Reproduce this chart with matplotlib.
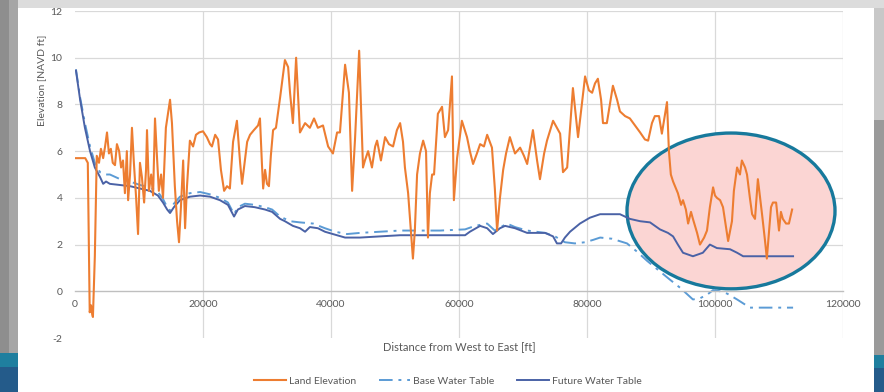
import matplotlib
matplotlib.use("Agg")
import matplotlib.pyplot as plt
from matplotlib.patches import Ellipse, Rectangle

# ---- data -------------------------------------------------------------
land_dist = [0, 1600, 2000, 2300, 2500, 2700, 2800, 3100, 3400, 3750, 4050, 4400, 4700, 5000,
             5300, 5600, 5900, 6250, 6550, 6900, 7200, 7500, 7800, 8100, 8300, 8600, 8900, 9200,
             9550, 9850, 10150, 10450, 10800, 11100, 11250, 11550, 11900, 12200, 12500, 12800,
             13100, 13450, 13750, 14200, 14850, 15150, 15600, 15950, 16250, 16550, 16900, 17200,
             17500, 17950, 18450, 18900, 19400, 20000, 20600, 21100, 21400, 21900, 22350, 22800,
             23300, 23750, 24200, 24700, 25300, 25800, 26100, 26550, 26900, 27350, 27950, 28600,
             28900, 29200, 29400, 29700, 30000, 30300, 30600, 30950, 31400, 32050, 32800, 33300,
             33600, 34050, 34550, 35150, 35950, 36700, 37350, 37950, 38750, 39550, 40300, 40950,
             41400, 42200, 42800, 43300, 43750, 44400, 45000, 45300, 45800, 46400, 46900, 47200,
             47800, 48450, 49050, 49700, 50300, 50800, 51250, 51550, 52050, 52500, 52800, 53100,
             53450, 53900, 54400, 54850, 55150, 55450, 55800, 56100, 56700, 57350, 57800, 58300,
             58900, 59200, 59700, 60450, 61250, 61700, 62200, 62800, 63300, 63900, 64400, 65150,
             65600, 65950, 66400, 66900, 67350, 67950, 68750, 69550, 70150, 70650, 71550, 72200,
             72650, 73300, 73750, 74700, 75300, 75800, 76250, 76900, 77350, 77800, 78600, 79200,
             79700, 80300, 80800, 81250, 81700, 82200, 82500, 83100, 84050, 84700, 85150, 85950,
             86700, 87500, 88300, 89050, 89550, 90150, 90600, 91250, 91700, 92500, 92800, 93100,
             93450, 93900, 94200, 94700, 95000, 95450, 95800, 96250, 96550, 97200, 97650, 98300,
             98750, 99200, 99700, 100000, 100300, 100800, 101250, 101700, 102050, 102650, 102950,
             103450, 103900, 104200, 104700, 105000, 105450, 105800, 106250, 106700, 107050,
             107350, 107800, 108100, 108450, 108750, 109050, 109550, 110000, 110300, 110600,
             111100, 111550, 112050]
land_elev = [5.7, 5.7, 5.5, -0.9, -0.6, -1.0, -1.1, 1.5, 5.8, 5.5, 6.1, 5.7, 6.2, 6.8,
             5.9, 6.1, 5.5, 5.4, 6.3, 6.0, 5.3, 5.6, 4.2, 6.0, 3.9, 5.0, 7.0, 5.5,
             4.0, 2.45, 5.5, 4.9, 3.8, 5.2, 6.9, 4.3, 5.0, 4.1, 7.4, 5.8,
             4.3, 5.0, 4.0, 7.0, 8.2, 7.2, 4.5, 3.0, 2.1, 3.6, 5.6, 2.7,
             4.5, 6.45, 6.2, 6.7, 6.8, 6.85, 6.6, 6.3, 6.2, 6.7, 6.5, 5.2,
             4.3, 4.5, 4.4, 6.4, 7.3, 5.5, 4.6, 5.6, 6.4, 6.7, 6.9, 7.1,
             7.4, 5.5, 4.4, 5.2, 4.6, 4.5, 5.8, 6.9, 7.0, 8.3, 9.9, 9.6,
             8.5, 7.2, 10.0, 6.8, 7.2, 7.0, 7.4, 7.0, 7.1, 6.2, 5.9, 6.8,
             6.8, 9.7, 8.5, 4.3, 6.5, 10.3, 5.3, 5.6, 6.0, 5.3, 6.2, 6.45,
             5.6, 6.6, 6.3, 6.2, 6.9, 7.2, 6.4, 5.3, 4.2, 2.5, 1.4, 2.6,
             5.0, 5.9, 6.45, 6.0, 2.3, 4.2, 5.0, 5.0, 7.6, 7.9, 6.6, 6.9,
             9.2, 3.9, 5.7, 7.3, 6.6, 6.0, 5.45, 5.9, 6.3, 6.2, 6.7, 6.15,
             4.4, 2.6, 4.0, 5.2, 5.9, 6.6, 5.9, 6.15, 5.8, 5.45, 6.9, 5.6,
             4.8, 5.9, 6.45, 7.3, 7.0, 6.75, 5.1, 5.3, 7.0, 8.7, 6.6, 8.0,
             9.2, 8.6, 8.5, 8.9, 9.1, 8.2, 7.2, 7.2, 8.8, 8.2, 7.7, 7.5,
             7.4, 7.1, 6.8, 6.5, 6.45, 7.2, 7.5, 7.5, 6.75, 8.1, 6.0, 5.0,
             4.7, 4.4, 4.2, 3.7, 3.9, 3.5, 2.9, 3.4, 3.1, 2.5, 2.0, 2.3,
             2.6, 3.6, 4.45, 4.1, 4.0, 3.9, 3.6, 2.8, 2.15, 3.0, 4.3,
             5.3, 5.0, 5.6, 5.3, 5.0, 4.0, 3.3, 3.1, 4.8, 4.0,
             3.3, 2.2, 1.4, 2.6, 3.6, 3.8, 3.8, 2.6, 3.4, 3.1,
             2.9, 2.9, 3.5]

base_dist = [150, 800, 1550, 2350, 3100, 3900, 4700, 5450, 7050, 8600, 10150, 11700, 12950,
             13750, 14400, 14850, 15450, 16400, 17950, 19550, 21100, 22650, 23900, 24850, 25450,
             26550, 28100, 29700, 30800, 32050, 33600, 35150, 37200, 39050, 40650, 42500, 44550,
             47650, 50800, 57050, 60950, 62500, 64400, 65600, 67500, 68750, 70650, 73450, 75000,
             76550, 78100, 79700, 80950, 82050, 83900, 86250, 87800, 89400, 91400, 92950, 94550,
             96550, 97650, 98750, 99700, 100800, 101900, 103450, 105450, 112200]
base_wt = [9.5, 8.3, 7.2, 6.2, 5.5, 5.1, 5.0, 5.0, 4.8, 4.7, 4.55, 4.45, 4.25,
           3.95, 3.6, 3.45, 3.75, 4.05, 4.2, 4.25, 4.15, 4.0, 3.8, 3.3, 3.6,
           3.75, 3.7, 3.6, 3.5, 3.2, 3.0, 2.95, 2.9, 2.7, 2.55, 2.45, 2.5,
           2.55, 2.6, 2.6, 2.65, 2.8, 2.9, 2.6, 2.9, 2.75, 2.6, 2.5, 2.35,
           2.1, 2.05, 2.1, 2.2, 2.3, 2.25, 2.05, 1.7, 1.3, 0.85, 0.5, 0.15,
           -0.35, -0.3, -0.15, 0.05, 0.0, -0.1, -0.35, -0.7, -0.7]

future_dist = [150, 800, 1550, 2350, 3100, 3900, 4400, 4850, 5450, 7050, 8600, 10150, 11700,
               12950, 13750, 14400, 14850, 15450, 16400, 17950, 19550, 21100, 22650, 23900,
               24850, 25450, 26550, 28100, 29700, 30800, 32050, 32800, 34050, 35150, 35950,
               36700, 37950, 39050, 40300, 42200, 44550, 47650, 50800, 57050, 60950, 61700,
               63300, 64400, 65300, 66400, 67200, 68750, 70650, 73450, 74700, 75300, 75950,
               76550, 77350, 78900, 80450, 82050, 85150, 86700, 88300, 89850, 91400, 92650,
               93450, 94200, 95000, 96550, 98100, 99200, 100300, 102350, 103450, 104400, 112200]
future_wt = [9.45, 8.2, 7.0, 6.0, 5.3, 4.9, 4.6, 4.7, 4.6, 4.55, 4.5, 4.4, 4.3,
             4.1, 3.8, 3.5, 3.35, 3.6, 3.9, 4.05, 4.1, 4.05, 3.9, 3.7,
             3.2, 3.5, 3.65, 3.6, 3.5, 3.4, 3.1, 3.0, 2.8, 2.7, 2.55,
             2.75, 2.7, 2.55, 2.45, 2.3, 2.3, 2.35, 2.4, 2.4, 2.4, 2.55,
             2.8, 2.7, 2.45, 2.7, 2.8, 2.7, 2.5, 2.5, 2.35, 2.05, 2.05,
             2.3, 2.55, 2.9, 3.15, 3.3, 3.3, 3.1, 3.0, 2.95, 2.65, 2.5,
             2.35, 2.0, 1.65, 1.5, 1.65, 2.0, 1.85, 1.8, 1.65, 1.5, 1.5]

series_names = ["Land Elevation", "Base Water Table", "Future Water Table"]
x_ticks = [0, 20000, 40000, 60000, 80000, 100000, 120000]
y_ticks = [-2, 0, 2, 4, 6, 8, 10, 12]

# ---- figure -----------------------------------------------------------
W, H = 884, 392
fig = plt.figure(figsize=(W / 100, H / 100), dpi=100)
fig.patch.set_facecolor("white")
plt.rcParams["font.family"] = ["Lato", "DejaVu Sans"]

def px_rect(x0, y0, x1, y1, color):
    fig.patches.append(Rectangle((x0 / W, 1 - y1 / H), (x1 - x0) / W, (y1 - y0) / H,
                                 transform=fig.transFigure, facecolor=color,
                                 edgecolor="none", zorder=0))

# slide frame around the chart
px_rect(0, 0, W, 8, "#dcdcdc")
px_rect(0, 0, 9, H, "#8e8e8e")
px_rect(9, 0, 18, H, "#a6a6a6")
px_rect(0, 353, 18, 367, "#1f7f9f")
px_rect(0, 367, 18, H, "#245b8a")
px_rect(874, 8, W, 120, "#c8c8c8")
px_rect(874, 120, W, 355, "#9a9a9a")
px_rect(874, 355, W, 368, "#1f7f9f")
px_rect(874, 368, W, H, "#245b8a")

ax = fig.add_axes([75 / W, 54 / H, (843 - 75) / W, (381 - 54) / H])
ax.set_facecolor("none")
ax.set_xlim(0, 120000)
ax.set_ylim(-2, 12)

grid_c = "#d9d9d9"
for yv in y_ticks:
    if yv > 0:
        ax.axhline(yv, color=grid_c, lw=0.9, zorder=1)
for xv in x_ticks[1:]:
    ax.axvline(xv, color=grid_c, lw=0.9, zorder=1)

for s in ["top", "right", "left"]:
    ax.spines[s].set_visible(False)
ax.spines["bottom"].set_position(("data", 0))
ax.spines["bottom"].set_color("#bfbfbf")
ax.spines["bottom"].set_linewidth(1.0)
ax.set_xticks(x_ticks)
ax.set_xticklabels([str(v) for v in x_ticks])
ax.set_yticks(y_ticks)
ax.set_yticklabels([str(v) for v in y_ticks])
ax.tick_params(axis="both", length=0, labelsize=7.5, colors="#595959")
ax.tick_params(axis="x", pad=6)
ax.tick_params(axis="y", pad=9)

# highlight ellipse
ax.add_patch(Ellipse((102500, 3.44), 32500, 6.67, facecolor="#fbd5d3",
                     edgecolor="#17799c", lw=2.4, zorder=1.5, clip_on=False))

l1, = ax.plot(land_dist, land_elev, color="#ED7D31", lw=1.5, zorder=3,
              label=series_names[0])
l2, = ax.plot(base_dist, base_wt, color="#5B9BD5", lw=1.4, zorder=2.5,
              linestyle=(0, (7, 3, 1.5, 3)), label=series_names[1])
l3, = ax.plot(future_dist, future_wt, color="#4a62a6", lw=1.4, zorder=2.6,
              label=series_names[2])

fig.text(42 / W, 1 - 80 / H, "Elevation [NAVD ft]", rotation=90, ha="center",
         va="center", fontsize=7.5, color="#595959")
fig.text(459 / W, 1 - 347 / H, "Distance from West to East [ft]", ha="center",
         va="center", fontsize=8, color="#595959")

fig.legend(handles=[l1, l2, l3], loc="center", bbox_to_anchor=(448 / W, 1 - 381 / H),
           ncol=3, frameon=False, fontsize=7.5, labelcolor="#595959",
           handlelength=3.0, columnspacing=2.2, handletextpad=0.3)

fig.savefig("out.png", dpi=100, facecolor=fig.get_facecolor())
